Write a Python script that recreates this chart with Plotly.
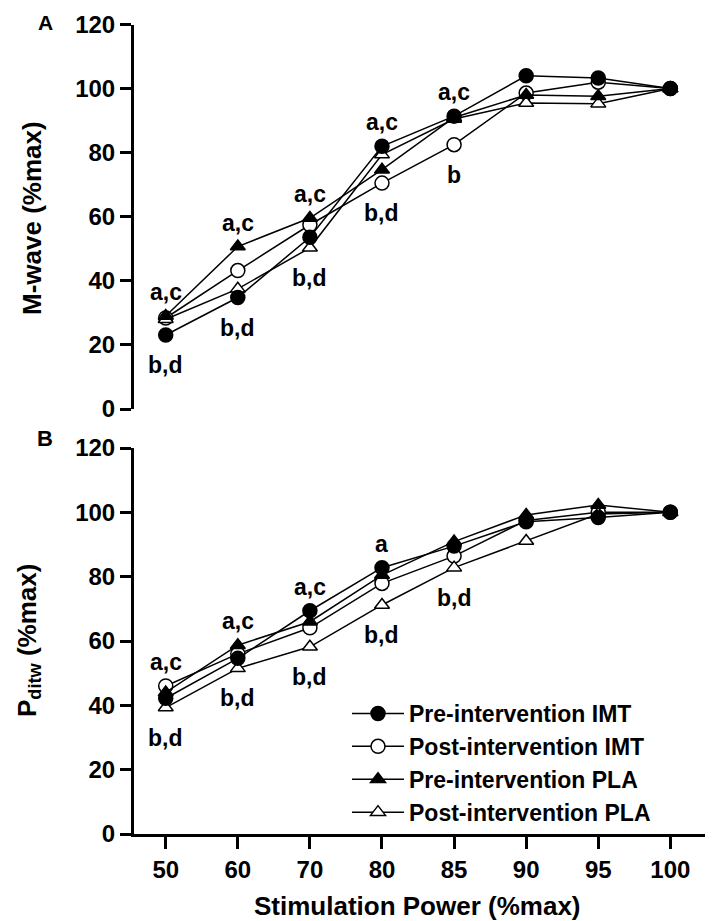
import plotly.graph_objects as go

# stimulation power categories (%max)
power = ["50", "60", "70", "80", "85", "90", "95", "100"]

# panel A: M-wave (%max)
mwave_pre_imt = [23.1, 34.8, 53.6, 82.0, 91.4, 104.0, 103.3, 100]
mwave_post_imt = [28.4, 43.2, 57.5, 70.5, 82.5, 98.6, 102.0, 100]
mwave_pre_pla = [29.0, 50.7, 59.6, 74.7, 91.0, 98.0, 97.6, 100]
mwave_post_pla = [28.0, 37.5, 50.3, 79.4, 90.5, 95.5, 95.3, 100]

# panel B: Pditw (%max)
pdi_pre_imt = [42.2, 54.6, 69.4, 82.8, 89.5, 97.1, 98.4, 100]
pdi_post_imt = [46.0, 56.0, 64.1, 77.9, 86.4, 97.5, 100.0, 100]
pdi_pre_pla = [44.0, 58.7, 66.0, 80.5, 90.9, 99.2, 102.3, 100]
pdi_post_pla = [39.3, 51.5, 58.2, 71.2, 82.8, 91.1, 99.5, 100]

# significance letters
sig_a_above = {"50": "a,c", "60": "a,c", "70": "a,c", "80": "a,c", "85": "a,c"}
sig_a_below = {"50": "b,d", "60": "b,d", "70": "b,d", "80": "b,d", "85": "b"}
sig_b_above = {"50": "a,c", "60": "a,c", "70": "a,c", "80": "a"}
sig_b_below = {"50": "b,d", "60": "b,d", "70": "b,d", "80": "b,d", "85": "b,d"}

FONT = "Arial, Liberation Sans, sans-serif"
W, H = 713, 921
OFF = 8  # page body margin shifts the figure


def px(x):
    return (x - OFF) / W


def py(y):
    return 1 - (y - OFF) / H


def bold(size):
    return dict(family=FONT, size=size, color="black", weight="bold")


series_style = [
    # name, fill, symbol, legend rank
    ("Post-intervention IMT", "white", "circle", 2),
    ("Post-intervention PLA", "white", "triangle-up", 4),
    ("Pre-intervention PLA", "black", "triangle-up", 3),
    ("Pre-intervention IMT", "black", "circle", 1),
]
panel_a = {
    "Pre-intervention IMT": mwave_pre_imt,
    "Post-intervention IMT": mwave_post_imt,
    "Pre-intervention PLA": mwave_pre_pla,
    "Post-intervention PLA": mwave_post_pla,
}
panel_b = {
    "Pre-intervention IMT": pdi_pre_imt,
    "Post-intervention IMT": pdi_post_imt,
    "Pre-intervention PLA": pdi_pre_pla,
    "Post-intervention PLA": pdi_post_pla,
}

fig = go.Figure()
for panel, xa, ya, show in ((panel_a, "x", "y", False), (panel_b, "x2", "y2", True)):
    for name, fill, sym, rank in series_style:
        fig.add_trace(
            go.Scatter(
                x=power,
                y=panel[name],
                xaxis=xa,
                yaxis=ya,
                mode="lines+markers",
                name=name,
                showlegend=show,
                legendrank=rank,
                line=dict(color="black", width=1.5),
                marker=dict(
                    symbol=sym,
                    size=14 if sym == "circle" else 13,
                    color=fill,
                    line=dict(color="black", width=1.5),
                ),
            )
        )

annotations = []


def add_sig(panel, above, below, xa, ya):
    # category axis: place by index so "50" is not read as position 50
    for cat, txt in above.items():
        i = power.index(cat)
        top = max(v[i] for v in panel.values())
        annotations.append(dict(x=i, y=top, xref=xa, yref=ya, text=txt, showarrow=False,
                                xanchor="center", yanchor="middle", yshift=24, font=bold(23)))
    for cat, txt in below.items():
        i = power.index(cat)
        low = min(v[i] for v in panel.values())
        annotations.append(dict(x=i, y=low, xref=xa, yref=ya, text=txt, showarrow=False,
                                xanchor="center", yanchor="middle", yshift=-30, font=bold(23)))


add_sig(panel_a, sig_a_above, sig_a_below, "x", "y")
add_sig(panel_b, sig_b_above, sig_b_below, "x2", "y2")

for txt, x, y, size, angle in (
    ("A", 45, 22, 21, 0),
    ("B", 45, 438, 22, 0),
    ("M-wave (%max)", 32, 218, 26, -90),
    ("P<sub>ditw</sub> (%max)", 28, 641, 26, -90),
    ("Stimulation Power (%max)", 417, 906, 26, 0),
):
    annotations.append(dict(x=px(x), y=py(y), xref="paper", yref="paper", text=txt,
                            textangle=angle, showarrow=False, xanchor="center",
                            yanchor="middle", font=bold(size)))

xdom = [px(134), px(710)]
xrange_ = [-0.44, 7.55]
tickfont = bold(24)
yax = dict(range=[0, 120], dtick=20, showgrid=False, zeroline=False, showline=True,
           linecolor="black", linewidth=3, ticks="outside", ticklen=11, tickwidth=3,
           tickcolor="black", tickfont=tickfont, automargin=False)

fig.update_layout(
    width=W,
    height=H,
    margin=dict(l=0, r=0, t=0, b=0, autoexpand=False),
    plot_bgcolor="white",
    paper_bgcolor="white",
    showlegend=True,
    xaxis=dict(domain=xdom, anchor="y", type="category", range=xrange_, showgrid=False,
               zeroline=False, showline=False, showticklabels=False, ticks="",
               automargin=False),
    yaxis=dict(domain=[py(409), py(24.5)], anchor="x", **yax),
    xaxis2=dict(domain=xdom, anchor="y2", type="category", range=xrange_, showgrid=False,
                zeroline=False, showline=True, linecolor="black", linewidth=3,
                ticks="outside", ticklen=12, tickwidth=3, tickcolor="black",
                tickfont=tickfont, automargin=False),
    yaxis2=dict(domain=[py(834), py(448)], anchor="x2", **yax),
    legend=dict(x=px(347), y=py(692), xanchor="left", yanchor="top",
                bgcolor="rgba(0,0,0,0)", font=bold(23), tracegroupgap=0, itemwidth=52),
    annotations=annotations,
)

fig.write_html("out.html")
